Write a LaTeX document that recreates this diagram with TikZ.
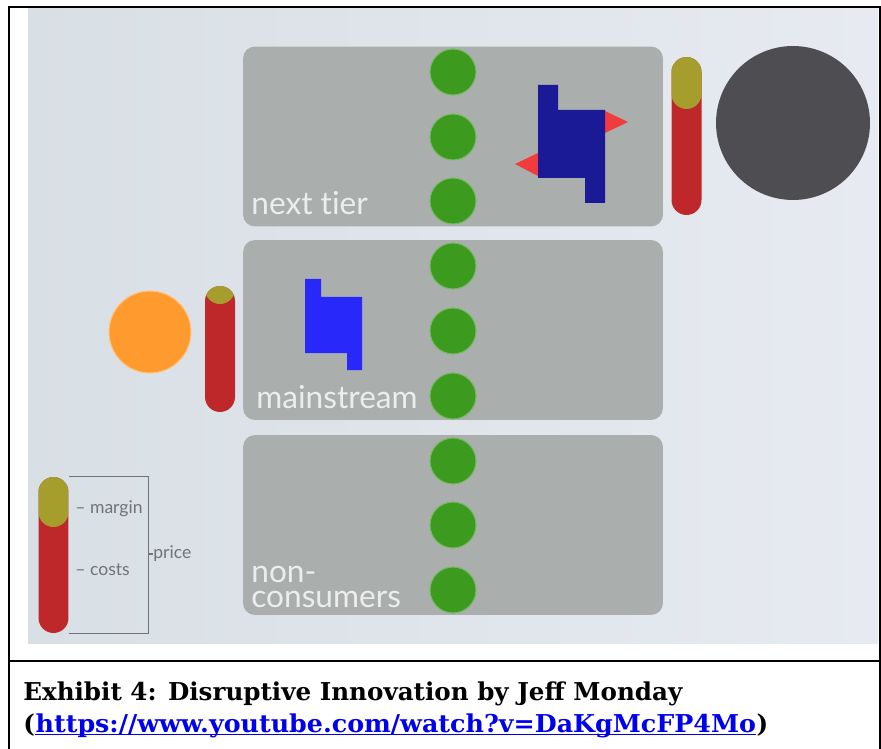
\documentclass[tikz,border=0pt]{standalone}
\usepackage{fontspec}
\setmainfont{DejaVu Serif}
\newfontfamily\labfont[Ligatures=NoCommon]{Lato}
\definecolor{boxgray}{HTML}{AAAFAE}
\definecolor{dotgreen}{HTML}{3C9A1E}
\definecolor{barred}{HTML}{BE282A}
\definecolor{barolive}{HTML}{A59E2D}
\definecolor{darkdisc}{HTML}{4E4E52}
\definecolor{orangedisc}{HTML}{FF9A2E}
\definecolor{darkblue}{HTML}{1A1A96}
\definecolor{brightblue}{HTML}{2828FA}
\definecolor{arrowred}{HTML}{F03C3C}
\definecolor{legendgray}{HTML}{6E737D}
\definecolor{linkblue}{HTML}{0000EE}
\definecolor{bgleft}{HTML}{D8DFE5}
\definecolor{bgright}{HTML}{E7EBF1}
\begin{document}
\begin{tikzpicture}[x=0.02cm,y=-0.02cm,
                tier/.style={fill=boxgray,rounded corners=0.24cm,minimum width=8.4cm,minimum height=3.6cm,inner sep=0},
                dot/.style={shape=circle,fill=dotgreen,draw=dotgreen!70!white,line width=0.6pt,minimum size=0.92cm,inner sep=0},
                bar/.style={fill=barred,rounded corners=0.3cm,minimum width=0.6cm,inner sep=0,
                    path picture={\fill[barolive] (path picture bounding box.north west) rectangle ([yshift=-#1]path picture bounding box.north east);}},
                tiername/.style={anchor=base west,text=white!93!black,font=\labfont\fontsize{18}{13.8}\selectfont,align=left,inner sep=0},
                legendtext/.style={anchor=base west,text=legendgray,font=\labfont\fontsize{10}{12}\selectfont,inner sep=0},
                caption/.style={anchor=base west,inner sep=0,font=\bfseries\fontsize{14}{17}\selectfont}]
                \useasboundingbox (0,0) rectangle (881,749);
                \shade[left color=bgleft,right color=bgright] (28,9) rectangle (878,643);

                \node[tier] (top) at (453,136.5) {};
                \node[tier] (mid) at (453,330) {};
                \node[tier] (low) at (453,525) {};

                \node[dot] (d1) at (453,72) {};
                \node[dot] (d2) at (453,137) {};
                \node[dot] (d3) at (453,201) {};
                \node[dot] (d4) at (453,266) {};
                \node[dot] (d5) at (453,331) {};
                \node[dot] (d6) at (453,396) {};
                \node[dot] (d7) at (453,461) {};
                \node[dot] (d8) at (453,525) {};
                \node[dot] (d9) at (453,590) {};

                \node[tiername] (next) at (251,215) {next tier};
                \node[tiername] (main) at (256,408) {mainstream};
                \node[tiername] (non) at (251,607) {non-\\consumers};

                \fill[arrowred] (605,111) -- (628,122) -- (605,133) -- cycle;
                \fill[arrowred] (538,153) -- (515,164) -- (538,176) -- cycle;
                \fill[darkblue] (538,85) -- (558,85) -- (558,110) -- (605,110) -- (605,203)
                    -- (585,203) -- (585,178) -- (538,178) -- cycle;
                \fill[brightblue] (305,279) -- (321,279) -- (321,297) -- (362,297) -- (362,370)
                    -- (347,370) -- (347,353) -- (305,353) -- cycle;

                \node[bar=1.04cm,minimum height=3.16cm] (tbar) at (686.5,136) {};
                \node[shape=circle,fill=darkdisc,minimum size=3.08cm,inner sep=0] (new) at (793,123) {};
                \node[bar=0.36cm,minimum height=2.52cm] (mbar) at (220,349) {};
                \node[shape=circle,fill=orangedisc,draw=orangedisc!60!white,line width=0.6pt,minimum size=1.64cm,inner sep=0] (old) at (150,332) {};

                \node[bar=1.0cm,minimum height=3.12cm] (lbar) at (53.5,555) {};
                \draw[legendgray,line width=0.6pt] (lbar.north east) -- ++(80,0) |- (lbar.south east);
                \node[legendtext] (margin) at (75,513) {– margin};
                \node[legendtext] (costs) at (75,575) {– costs};
                \node[legendtext] (price) at (153,558) {price};
                \draw[legendgray,line width=0.6pt] (price.base west) ++(0,-4) -- ++(-4,0);

                \draw[line width=0.04cm] (9,749) -- (9,7) -- (880,7) -- (880,749);
                \draw[line width=0.04cm] (9,661) -- (880,661);
                \node[caption] (cap1) at (23,700) {Exhibit 4: Disruptive Innovation by Jeff Monday};
                \node[caption] (open) at (23,732) {(};
                \node[caption,text=linkblue] (link) at (open.base east) {\scalebox{1.03}[1]{https://www.youtube.com/watch?v=DaKgMcFP4Mo}};
                \node[caption] (close) at (link.base east) {)};
                \draw[linkblue,line width=0.035cm] ([yshift=-0.05cm]link.base west) -- ([yshift=-0.05cm]link.base east);
            \end{tikzpicture}
\end{document}
